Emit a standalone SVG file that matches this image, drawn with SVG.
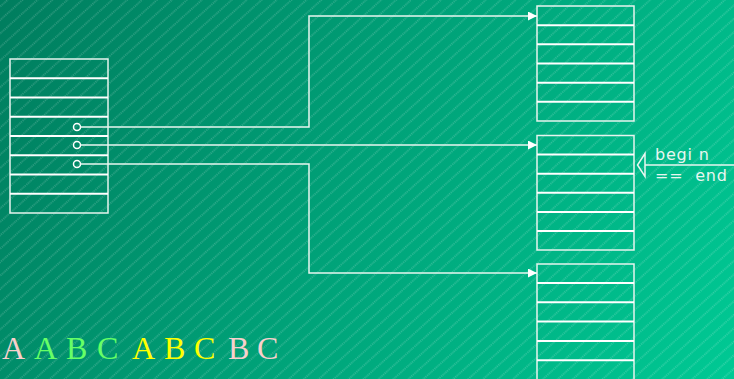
<svg xmlns="http://www.w3.org/2000/svg" width="734" height="379" viewBox="0 0 734 379">
<defs>
<linearGradient id="bg" gradientUnits="userSpaceOnUse" x1="0" y1="0" x2="734" y2="379">
<stop offset="0" stop-color="#007d5e"/>
<stop offset="1" stop-color="#00c994"/>
</linearGradient>
<pattern id="hatch" patternUnits="userSpaceOnUse" width="10" height="10" patternTransform="rotate(-42)">
<line x1="-5" y1="5" x2="15" y2="5" stroke="#ffffff" stroke-opacity="0.45" stroke-width="0.8" stroke-dasharray="1.2 1"/>
</pattern>
<marker id="ah" viewBox="0 0 10 10" refX="10" refY="5" markerWidth="9" markerHeight="9" markerUnits="userSpaceOnUse" orient="auto">
<path d="M0,0 L10,5 L0,10 Z" fill="#ffffff"/>
</marker>
<style>
.frame{fill:none;stroke:#e6f4ee;stroke-width:1.5}
.row{stroke:#ffffff;stroke-width:2}
.conn{fill:none;stroke:#e8f6f0;stroke-width:1.5}
.dot{fill:none;stroke:#ffffff;stroke-width:1.5}
.lbl{font-family:"DejaVu Sans","Liberation Sans",sans-serif;font-size:16px;fill:#e8f6f0;letter-spacing:0.8px}
.big{font-family:"Liberation Serif","Times New Roman",serif;font-size:32px}
</style>
</defs>
<rect width="734" height="379" fill="url(#bg)"/>
<rect width="734" height="379" fill="url(#hatch)"/>

<g id="left-table">
<rect class="frame" x="10" y="59" width="98" height="154"/>
<line class="row" x1="10" y1="78.25" x2="108" y2="78.25"/>
<line class="row" x1="10" y1="97.5" x2="108" y2="97.5"/>
<line class="row" x1="10" y1="116.75" x2="108" y2="116.75"/>
<line class="row" x1="10" y1="136" x2="108" y2="136"/>
<line class="row" x1="10" y1="155.25" x2="108" y2="155.25"/>
<line class="row" x1="10" y1="174.5" x2="108" y2="174.5"/>
<line class="row" x1="10" y1="193.75" x2="108" y2="193.75"/>
<circle class="dot" cx="77" cy="127" r="3.5"/>
<circle class="dot" cx="77" cy="145" r="3.5"/>
<circle class="dot" cx="77" cy="164" r="3.5"/>
</g>

<g id="table-top">
<rect class="frame" x="537" y="6" width="97" height="115"/>
<line class="row" x1="537" y1="25.2" x2="634" y2="25.2"/>
<line class="row" x1="537" y1="44.3" x2="634" y2="44.3"/>
<line class="row" x1="537" y1="63.5" x2="634" y2="63.5"/>
<line class="row" x1="537" y1="82.7" x2="634" y2="82.7"/>
<line class="row" x1="537" y1="101.8" x2="634" y2="101.8"/>
</g>

<g id="table-middle">
<rect class="frame" x="537" y="135.5" width="97" height="114.5"/>
<line class="row" x1="537" y1="154.6" x2="634" y2="154.6"/>
<line class="row" x1="537" y1="173.7" x2="634" y2="173.7"/>
<line class="row" x1="537" y1="192.8" x2="634" y2="192.8"/>
<line class="row" x1="537" y1="211.9" x2="634" y2="211.9"/>
<line class="row" x1="537" y1="231" x2="634" y2="231"/>
</g>

<g id="table-bottom">
<rect class="frame" x="537" y="264" width="97" height="116"/>
<line class="row" x1="537" y1="283" x2="634" y2="283"/>
<line class="row" x1="537" y1="302.3" x2="634" y2="302.3"/>
<line class="row" x1="537" y1="321.6" x2="634" y2="321.6"/>
<line class="row" x1="537" y1="340.9" x2="634" y2="340.9"/>
<line class="row" x1="537" y1="360.2" x2="634" y2="360.2"/>
</g>

<g id="connectors">
<polyline class="conn" points="80.5,127 309,127 309,16 537,16" marker-end="url(#ah)"/>
<polyline class="conn" points="80.5,145 537,145" marker-end="url(#ah)"/>
<polyline class="conn" points="80.5,164 309,164 309,273 537,273" marker-end="url(#ah)"/>
<line class="conn" x1="734" y1="165" x2="645" y2="165"/>
<polygon class="conn" points="645,153.5 637.5,165 645,176.5"/>
</g>

<g id="pointer-label">
<text class="lbl" x="655" y="160">begi n</text>
<text class="lbl" x="655" y="181" xml:space="preserve">==  end</text>
</g>

<g id="sequence">
<text class="big" y="359"><tspan x="2" fill="#f8d0cc">A</tspan><tspan x="34" fill="#66ff66">A</tspan><tspan x="66" fill="#66ff66">B</tspan><tspan x="97" fill="#66ff66">C</tspan><tspan x="132" fill="#ffff00">A</tspan><tspan x="164" fill="#ffff00">B</tspan><tspan x="194" fill="#ffff00">C</tspan><tspan x="228" fill="#f8d0cc">B</tspan><tspan x="257" fill="#f8d0cc">C</tspan></text>
</g>
</svg>
